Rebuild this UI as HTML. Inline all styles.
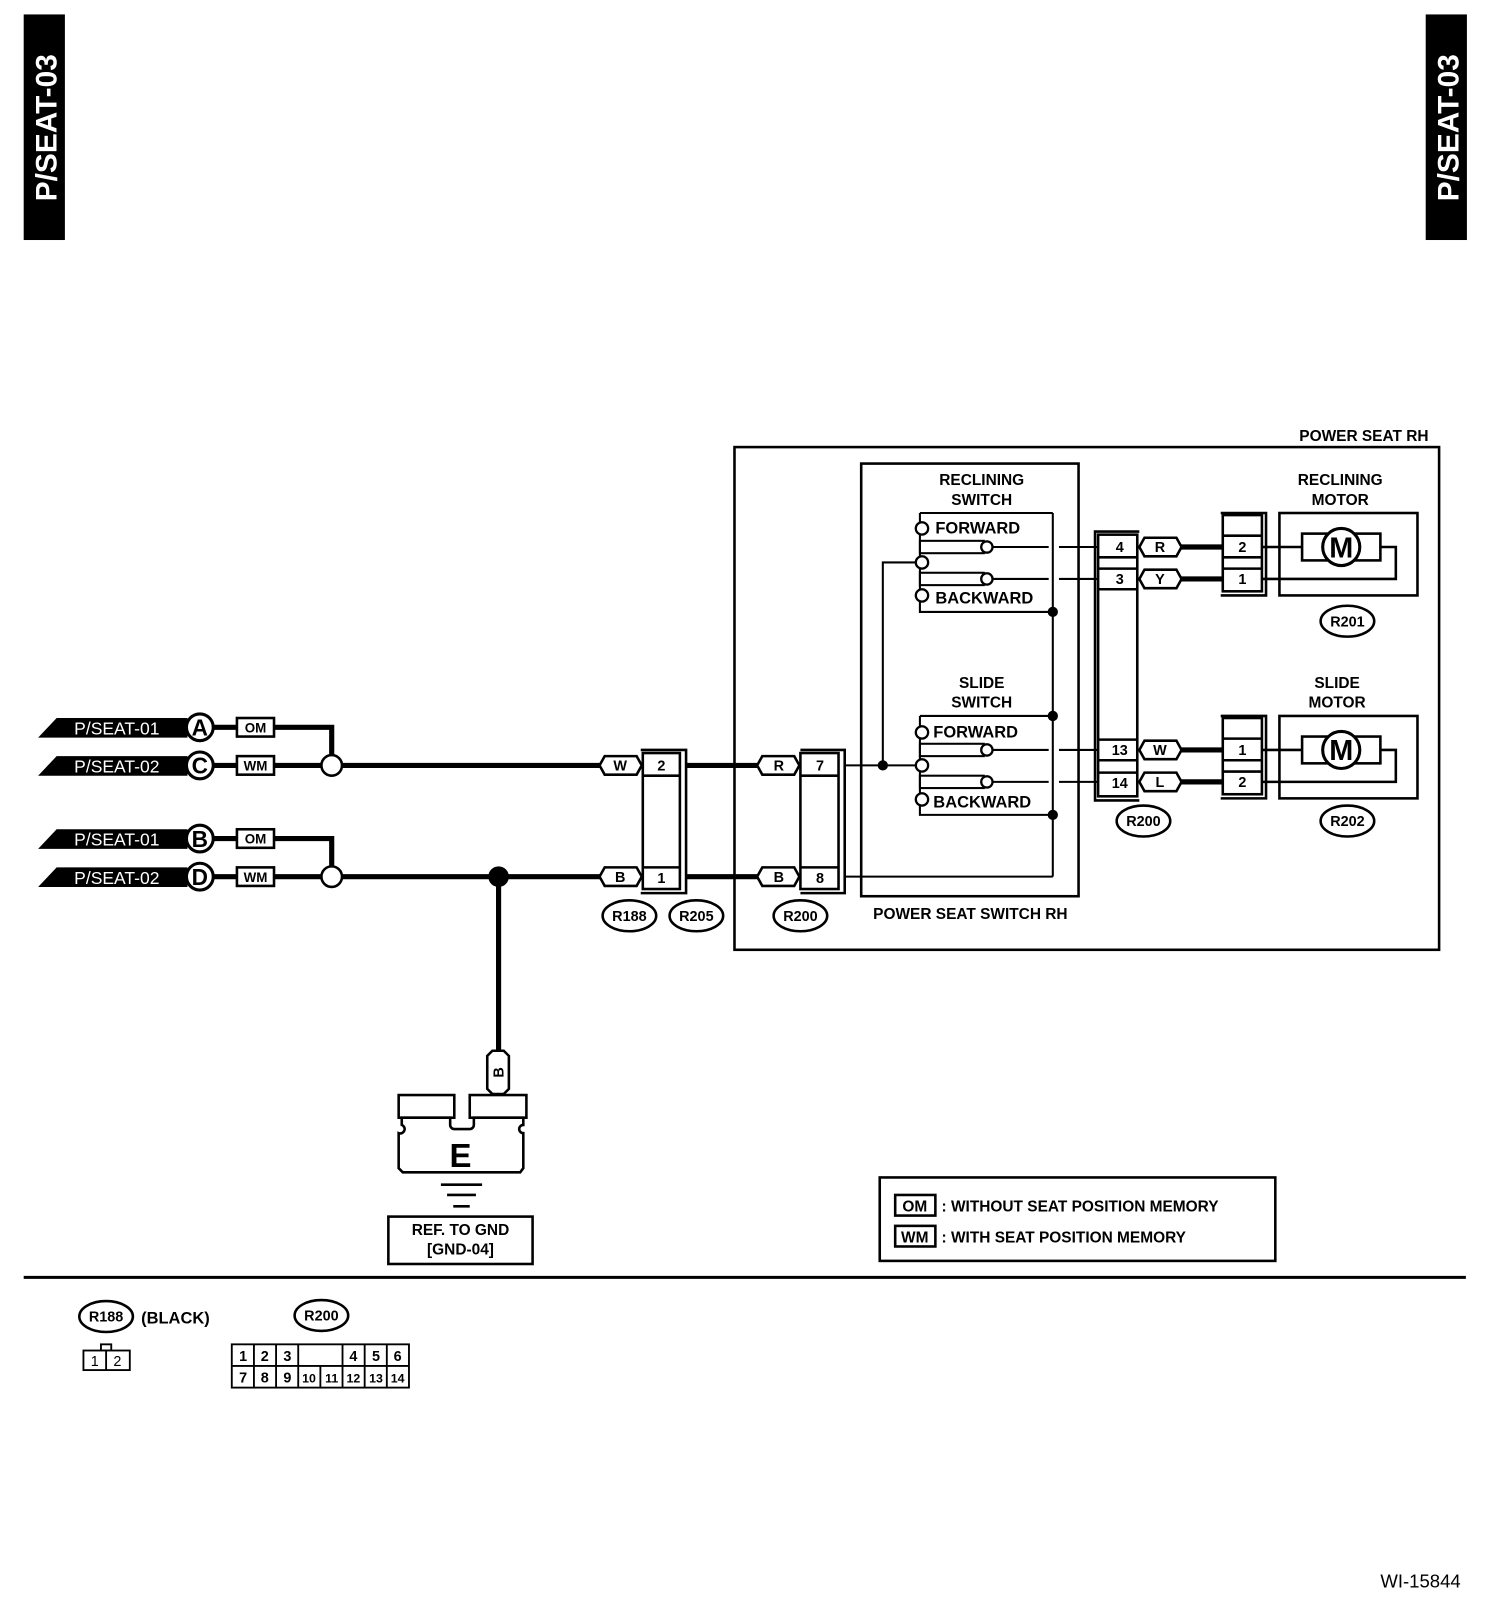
<!DOCTYPE html>
<html><head><meta charset="utf-8"><style>
html,body{margin:0;padding:0;background:#fff;}
svg{display:block;}
text{font-family:"Liberation Sans",sans-serif;font-weight:bold;fill:#000;}
</style></head><body>
<svg width="1504" height="1606" viewBox="0 0 1460 1559" xmlns="http://www.w3.org/2000/svg">
<g fill="none" stroke="#000" stroke-width="2">
<!-- tabs -->
<rect x="24" y="15" width="38" height="217" fill="#000"/>
<rect x="1385" y="15" width="38" height="217" fill="#000"/>
</g>
<text transform="translate(55,124) rotate(-90)" text-anchor="middle" font-size="29" style="fill:#fff">P/SEAT-03</text>
<text transform="translate(1416,124) rotate(-90)" text-anchor="middle" font-size="29" style="fill:#fff">P/SEAT-03</text>

<!-- separator -->
<line x1="23" y1="1240" x2="1423" y2="1240" stroke="#000" stroke-width="3"/>
<text x="1418" y="1541" text-anchor="end" font-size="18" font-weight="normal" style="font-weight:normal">WI-15844</text>

<!-- left harness flags -->
<g>
<polygon points="37,716 55,697 182,697 182,716" fill="#000"/>
<polygon points="37,753 55,734 182,734 182,753" fill="#000"/>
<polygon points="37,824 55,805 182,805 182,824" fill="#000"/>
<polygon points="37,861 55,842 182,842 182,861" fill="#000"/>
</g>
<g font-size="17" style="font-weight:normal">
<text x="72" y="713" style="fill:#fff;font-weight:normal">P/SEAT-01</text>
<text x="72" y="750" style="fill:#fff;font-weight:normal">P/SEAT-02</text>
<text x="72" y="821" style="fill:#fff;font-weight:normal">P/SEAT-01</text>
<text x="72" y="858" style="fill:#fff;font-weight:normal">P/SEAT-02</text>
</g>
<g stroke="#000" stroke-width="3" fill="#fff">
<circle cx="194" cy="706" r="13"/><circle cx="194" cy="743" r="13"/>
<circle cx="194" cy="814" r="13"/><circle cx="194" cy="851" r="13"/>
</g>
<g font-size="22" text-anchor="middle">
<text x="194" y="714">A</text><text x="194" y="751">C</text>
<text x="194" y="822">B</text><text x="194" y="859">D</text>
</g>
<g stroke="#000" stroke-width="5" fill="none">
<line x1="207" y1="706" x2="230" y2="706"/><line x1="207" y1="743" x2="230" y2="743"/>
<line x1="207" y1="814" x2="230" y2="814"/><line x1="207" y1="851" x2="230" y2="851"/>
<polyline points="266,706 322,706 322,733"/>
<polyline points="266,814 322,814 322,841"/>
<line x1="266" y1="743" x2="312" y2="743"/><line x1="266" y1="851" x2="312" y2="851"/>
<line x1="332" y1="743" x2="584" y2="743"/>
<line x1="332" y1="851" x2="584" y2="851"/>
<line x1="484" y1="851" x2="484" y2="1022"/>
<line x1="666" y1="743" x2="737" y2="743"/>
<line x1="666" y1="851" x2="737" y2="851"/>
<line x1="1146" y1="531" x2="1187" y2="531"/>
<line x1="1146" y1="562" x2="1187" y2="562"/>
<line x1="1146" y1="728" x2="1187" y2="728"/>
<line x1="1146" y1="759" x2="1187" y2="759"/>
</g>
<circle cx="484" cy="851" r="10" fill="#000"/>
<g stroke="#000" stroke-width="2.5" fill="#fff">
<rect x="230" y="697" width="36" height="18"/><rect x="230" y="734" width="36" height="18"/>
<rect x="230" y="805" width="36" height="18"/><rect x="230" y="842" width="36" height="18"/>
<circle cx="322" cy="743" r="10"/><circle cx="322" cy="851" r="10"/>
</g>
<g font-size="13" text-anchor="middle">
<text x="248" y="711">OM</text><text x="248" y="748">WM</text>
<text x="248" y="819">OM</text><text x="248" y="856">WM</text>
</g>

<!-- pills -->
<g stroke="#000" stroke-width="2.5" fill="#fff">
<path d="M587,734 H618 L623,743 L618,752 H587 L582,743 Z"/>
<path d="M587,842 H618 L623,851 L618,860 H587 L582,851 Z"/>
<path d="M740,734 H771 L776,743 L771,752 H740 L735,743 Z"/>
<path d="M740,842 H771 L776,851 L771,860 H740 L735,851 Z"/>
<path d="M1111,522 H1142 L1147,531 L1142,540 H1111 L1106,531 Z"/>
<path d="M1111,553 H1142 L1147,562 L1142,571 H1111 L1106,562 Z"/>
<path d="M1111,719 H1142 L1147,728 L1142,737 H1111 L1106,728 Z"/>
<path d="M1111,750 H1142 L1147,759 L1142,768 H1111 L1106,759 Z"/>
<path d="M473,1025 V1057 L478,1062 H489 L494,1057 V1025 L489,1020 H478 Z"/>
</g>
<g font-size="14" text-anchor="middle">
<text x="602" y="748">W</text><text x="602" y="856">B</text>
<text x="756" y="748">R</text><text x="756" y="856">B</text>
<text x="1126" y="536">R</text><text x="1126" y="567">Y</text>
<text x="1126" y="733">W</text><text x="1126" y="764">L</text>
<text transform="translate(489,1041) rotate(-90)">B</text>
</g>

<!-- connectors R188/R205 and R200 -->
<g stroke="#000" stroke-width="2.5" fill="none">
<polyline points="622,728 666,728 666,867 622,867"/>
<rect x="624" y="731" width="36" height="132"/>
<line x1="624" y1="753" x2="660" y2="753"/><line x1="624" y1="842" x2="660" y2="842"/>
<polyline points="777,728 820,728 820,867 777,867"/>
<rect x="777" y="731" width="37" height="132"/>
<line x1="777" y1="753" x2="814" y2="753"/><line x1="777" y1="842" x2="814" y2="842"/>
<polyline points="1106,516 1063,516 1063,777 1106,777"/>
<rect x="1066" y="519" width="38" height="254"/>
<line x1="1066" y1="541" x2="1104" y2="541"/><line x1="1066" y1="552" x2="1104" y2="552"/><line x1="1066" y1="572" x2="1104" y2="572"/>
<line x1="1066" y1="718" x2="1104" y2="718"/><line x1="1066" y1="738" x2="1104" y2="738"/><line x1="1066" y1="750" x2="1104" y2="750"/>
<polyline points="1185,498 1229,498 1229,578 1185,578"/>
<rect x="1187" y="500" width="38" height="74"/>
<line x1="1187" y1="520" x2="1225" y2="520"/><line x1="1187" y1="541" x2="1225" y2="541"/><line x1="1187" y1="552" x2="1225" y2="552"/>
<polyline points="1185,695 1229,695 1229,775 1185,775"/>
<rect x="1187" y="697" width="38" height="74"/>
<line x1="1187" y1="717" x2="1225" y2="717"/><line x1="1187" y1="738" x2="1225" y2="738"/><line x1="1187" y1="749" x2="1225" y2="749"/>
</g>
<g font-size="14" text-anchor="middle">
<text x="642" y="748">2</text><text x="642" y="857">1</text>
<text x="796" y="748">7</text><text x="796" y="857">8</text>
<text x="1087" y="536">4</text><text x="1087" y="567">3</text>
<text x="1087" y="733">13</text><text x="1087" y="765">14</text>
<text x="1206" y="536">2</text><text x="1206" y="567">1</text>
<text x="1206" y="733">1</text><text x="1206" y="764">2</text>
</g>

<!-- boxes -->
<g stroke="#000" fill="none">
<rect x="713" y="434" width="684" height="488" stroke-width="2.5"/>
<rect x="836" y="450" width="211" height="420" stroke-width="2.5"/>
<rect x="1242" y="498" width="134" height="80" stroke-width="2.5"/>
<rect x="1242" y="695" width="134" height="80" stroke-width="2.5"/>
</g>
<g font-size="15" text-anchor="middle">
<text x="1324" y="428">POWER SEAT RH</text>
<text x="953" y="471">RECLINING</text><text x="953" y="490">SWITCH</text>
<text x="953" y="668">SLIDE</text><text x="953" y="687">SWITCH</text>
<text x="1301" y="471">RECLINING</text><text x="1301" y="490">MOTOR</text>
<text x="1298" y="668">SLIDE</text><text x="1298" y="687">MOTOR</text>
<text x="942" y="892">POWER SEAT SWITCH RH</text>
</g>

<!-- switches -->
<g stroke="#000" stroke-width="2" fill="none">
<polyline points="893,498 1022,498"/>
<polyline points="893,498 893,507"/><polyline points="893,519 893,540"/><polyline points="893,552 893,572"/><polyline points="893,584 893,594 1022,594"/>
<rect x="893" y="525" width="62" height="12"/><rect x="893" y="556" width="62" height="12"/>
<line x1="962" y1="531" x2="1018" y2="531"/><line x1="962" y1="562" x2="1018" y2="562"/>
<line x1="1028" y1="531" x2="1066" y2="531"/><line x1="1028" y1="562" x2="1066" y2="562"/>
<polyline points="893,695 1022,695"/>
<polyline points="893,695 893,705"/><polyline points="893,717 893,737"/><polyline points="893,749 893,770"/><polyline points="893,782 893,791 1022,791"/>
<rect x="893" y="722" width="62" height="12"/><rect x="893" y="753" width="62" height="12"/>
<line x1="962" y1="728" x2="1018" y2="728"/><line x1="962" y1="759" x2="1018" y2="759"/>
<line x1="1028" y1="728" x2="1066" y2="728"/><line x1="1028" y1="759" x2="1066" y2="759"/>
<line x1="1022" y1="498" x2="1022" y2="851"/>
<line x1="820" y1="851" x2="1022" y2="851"/>
<line x1="820" y1="743" x2="889" y2="743"/>
<polyline points="889,546 857,546 857,743"/>
</g>
<g stroke="#000" stroke-width="2.2" fill="#fff">
<circle cx="895" cy="513" r="6"/><circle cx="895" cy="546" r="6"/><circle cx="895" cy="578" r="6"/>
<circle cx="958" cy="531" r="5.5"/><circle cx="958" cy="562" r="5.5"/>
<circle cx="895" cy="711" r="6"/><circle cx="895" cy="743" r="6"/><circle cx="895" cy="776" r="6"/>
<circle cx="958" cy="728" r="5.5"/><circle cx="958" cy="759" r="5.5"/>
</g>
<g fill="#000">
<circle cx="1022" cy="594" r="5"/><circle cx="1022" cy="695" r="5"/><circle cx="1022" cy="791" r="5"/>
<circle cx="857" cy="743" r="5"/>
</g>
<g font-size="16">
<text x="908" y="518">FORWARD</text><text x="908" y="586">BACKWARD</text>
<text x="906" y="716">FORWARD</text><text x="906" y="784">BACKWARD</text>
</g>

<!-- motors -->
<g stroke="#000" stroke-width="2.5" fill="none">
<line x1="1225" y1="531" x2="1264" y2="531"/>
<rect x="1264" y="518" width="76" height="26"/>
<polyline points="1225,562 1355,562 1355,531 1340,531"/>
<line x1="1225" y1="728" x2="1264" y2="728"/>
<rect x="1264" y="715" width="76" height="26"/>
<polyline points="1225,759 1355,759 1355,728 1340,728"/>
<circle cx="1302" cy="531" r="18" fill="#fff" stroke-width="3"/>
<circle cx="1302" cy="728" r="18" fill="#fff" stroke-width="3"/>
</g>
<g font-size="28" text-anchor="middle">
<text x="1302" y="541">M</text><text x="1302" y="738">M</text>
</g>

<!-- ellipse labels -->
<g stroke="#000" stroke-width="2.5" fill="#fff">
<ellipse cx="611" cy="889" rx="26" ry="15"/><ellipse cx="676" cy="889" rx="26" ry="15"/>
<ellipse cx="777" cy="889" rx="26" ry="15"/><ellipse cx="1110" cy="797" rx="26" ry="15"/>
<ellipse cx="1308" cy="603" rx="26" ry="15"/><ellipse cx="1308" cy="797" rx="26" ry="15"/>
<ellipse cx="103" cy="1278" rx="26" ry="15"/><ellipse cx="312" cy="1277" rx="26" ry="15"/>
</g>
<g font-size="14" text-anchor="middle" style="font-weight:normal">
<text x="611" y="894">R188</text><text x="676" y="894">R205</text>
<text x="777" y="894">R200</text><text x="1110" y="802">R200</text>
<text x="1308" y="608">R201</text><text x="1308" y="802">R202</text>
<text x="103" y="1283">R188</text><text x="312" y="1282">R200</text>
</g>

<!-- ground -->
<g stroke="#000" stroke-width="2.5" fill="#fff">
<rect x="387" y="1063" width="54" height="22"/>
<rect x="456" y="1063" width="55" height="22"/>
<path d="M390,1085 H437 V1092 A4,4 0 0 0 441,1096 H456 A4,4 0 0 0 460,1092 V1085 H508 V1092 A4,4 0 0 0 508,1100 V1134 L505,1138 H391 L387,1134 V1100 A4,4 0 0 0 390,1092 Z"/>
<rect x="377" y="1181" width="140" height="46"/>
</g>
<g stroke="#000" stroke-width="2.5">
<line x1="428" y1="1150" x2="468" y2="1150"/>
<line x1="434" y1="1160" x2="462" y2="1160"/>
<line x1="440" y1="1171" x2="456" y2="1171"/>
</g>
<text x="447" y="1133" font-size="32" text-anchor="middle">E</text>
<g font-size="15" text-anchor="middle">
<text x="447" y="1199">REF. TO GND</text><text x="447" y="1218">[GND-04]</text>
</g>

<!-- legend -->
<g stroke="#000" stroke-width="2.5" fill="#fff">
<rect x="854" y="1143" width="384" height="81"/>
<rect x="869" y="1160" width="39" height="20"/>
<rect x="869" y="1190" width="39" height="20"/>
</g>
<g font-size="15">
<text x="888" y="1176" text-anchor="middle">OM</text>
<text x="888" y="1206" text-anchor="middle">WM</text>
<text x="914" y="1176">: WITHOUT SEAT POSITION MEMORY</text>
<text x="914" y="1206">: WITH SEAT POSITION MEMORY</text>
</g>

<!-- connector faces -->
<text x="137" y="1285" font-size="16">(BLACK)</text>
<g stroke="#000" stroke-width="1.8" fill="#fff">
<rect x="98" y="1305" width="10" height="6"/>
<rect x="81" y="1311" width="45" height="19"/>
<line x1="103" y1="1311" x2="103" y2="1330"/>
<rect x="225" y="1305" width="172" height="42"/>
<line x1="225" y1="1326" x2="397" y2="1326"/>
<line x1="246.5" y1="1305" x2="246.5" y2="1347"/>
<line x1="268" y1="1305" x2="268" y2="1347"/>
<line x1="289.5" y1="1305" x2="289.5" y2="1347"/>
<line x1="311" y1="1326" x2="311" y2="1347"/>
<line x1="332.5" y1="1305" x2="332.5" y2="1347"/>
<line x1="354" y1="1305" x2="354" y2="1347"/>
<line x1="375.5" y1="1305" x2="375.5" y2="1347"/>
</g>
<g font-size="14" text-anchor="middle" style="font-weight:normal">
<text x="92" y="1326" style="font-weight:normal">1</text><text x="114" y="1326" style="font-weight:normal">2</text>
<text x="236" y="1321">1</text><text x="257" y="1321">2</text><text x="279" y="1321">3</text>
<text x="343" y="1321">4</text><text x="365" y="1321">5</text><text x="386" y="1321">6</text>
<text x="236" y="1342">7</text><text x="257" y="1342">8</text><text x="279" y="1342">9</text>
<text x="300" y="1342" font-size="12">10</text><text x="322" y="1342" font-size="12">11</text><text x="343" y="1342" font-size="12">12</text>
<text x="365" y="1342" font-size="12">13</text><text x="386" y="1342" font-size="12">14</text>
</g>
</svg>
</body></html>
